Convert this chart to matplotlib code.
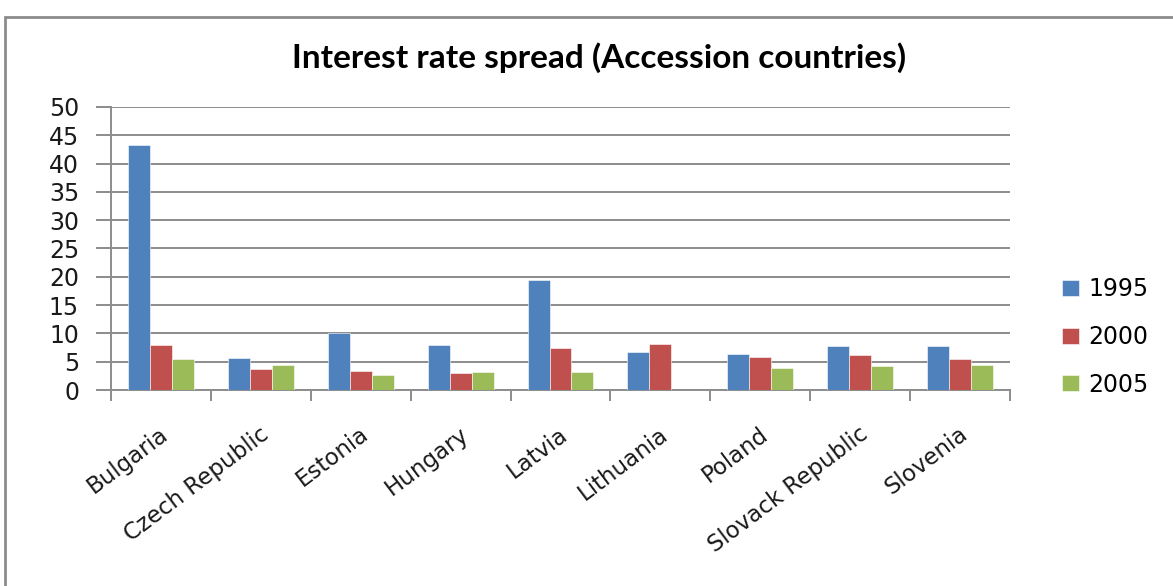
import matplotlib.pyplot as plt
import matplotlib.patches as mpatches
import matplotlib.transforms as mtransforms
import numpy as np

countries = ['Bulgaria', 'Czech Republic', 'Estonia', 'Hungary', 'Latvia',
             'Lithuania', 'Poland', 'Slovack Republic', 'Slovenia']
years = ['1995', '2000', '2005']
spread_1995 = [43.2, 5.7, 10.0, 8.0, 19.5, 6.8, 6.4, 7.8, 7.8]
spread_2000 = [8.0, 3.7, 3.4, 3.0, 7.4, 8.2, 5.8, 6.2, 5.5]
spread_2005 = [5.5, 4.4, 2.6, 3.2, 3.2, 0.0, 3.9, 4.2, 4.4]
colors = ['#4F81BD', '#C0504D', '#9BBB59']

W, H = 1173, 586
fig = plt.figure(figsize=(W / 100, H / 100), dpi=100)
fig.patch.set_facecolor('white')

# chart border (runs off the right and bottom edge)
fig.patches.append(mpatches.Rectangle((5 / W, -0.1), 1.2, 1 - 17 / H + 0.1,
                                      transform=fig.transFigure, fill=False,
                                      edgecolor='#8c8c8c', linewidth=2))

ax = fig.add_axes([111 / W, 1 - 390 / H, (1010 - 111) / W, (390 - 107) / H])

x = np.arange(len(countries))
bw = 0.22
for i, (vals, yr) in enumerate(zip([spread_1995, spread_2000, spread_2005], years)):
    ax.bar(x + (i - 1) * bw, vals, bw, color=colors[i], label=yr, zorder=3,
           edgecolor='white', linewidth=0.4)

ax.set_xlim(-0.5, len(countries) - 0.5)
ax.set_ylim(0, 50)
ax.set_yticks(range(0, 51, 5))
ax.yaxis.grid(True, color='#8c8c8c', linewidth=1.4, zorder=0)
ax.set_axisbelow(True)

for s in ['top', 'right']:
    ax.spines[s].set_visible(False)
for s in ['left', 'bottom']:
    ax.spines[s].set_color('#8c8c8c')
    ax.spines[s].set_linewidth(1.4)

ax.tick_params(axis='y', length=11, width=1.4, color='#8c8c8c',
               labelsize=17, pad=12)
for t in ax.get_yticklabels():
    t.set_fontfamily('DejaVu Sans')
    t.set_color('#1a1a1a')

ax.set_xticks(x)
ax.set_xticks(np.arange(-0.5, len(countries), 1), minor=True)
ax.tick_params(axis='x', which='major', length=0, pad=30)
ax.tick_params(axis='x', which='minor', length=8, width=1.4, color='#8c8c8c')
ax.set_xticklabels(countries, rotation=37, ha='right', va='center',
                   rotation_mode='anchor', fontsize=16.5, family='DejaVu Sans',
                   color='#1a1a1a')
# nudge category labels a little to the right
shift = mtransforms.ScaledTranslation(5 / 100, 0, fig.dpi_scale_trans)
for t in ax.get_xticklabels():
    t.set_transform(t.get_transform() + shift)

fig.text(599 / W, 1 - 58 / H, 'Interest rate spread (Accession countries)',
         ha='center', va='center', fontsize=24, fontweight='bold', family='Lato')

leg = fig.legend(loc='center left', bbox_to_anchor=(1041 / W, 1 - 337 / H),
                 frameon=False, handlelength=0.72, handleheight=0.65,
                 labelspacing=1.0, handletextpad=0.4,
                 prop={'family': 'DejaVu Sans', 'size': 17})

fig.savefig('out.png', dpi=100)
